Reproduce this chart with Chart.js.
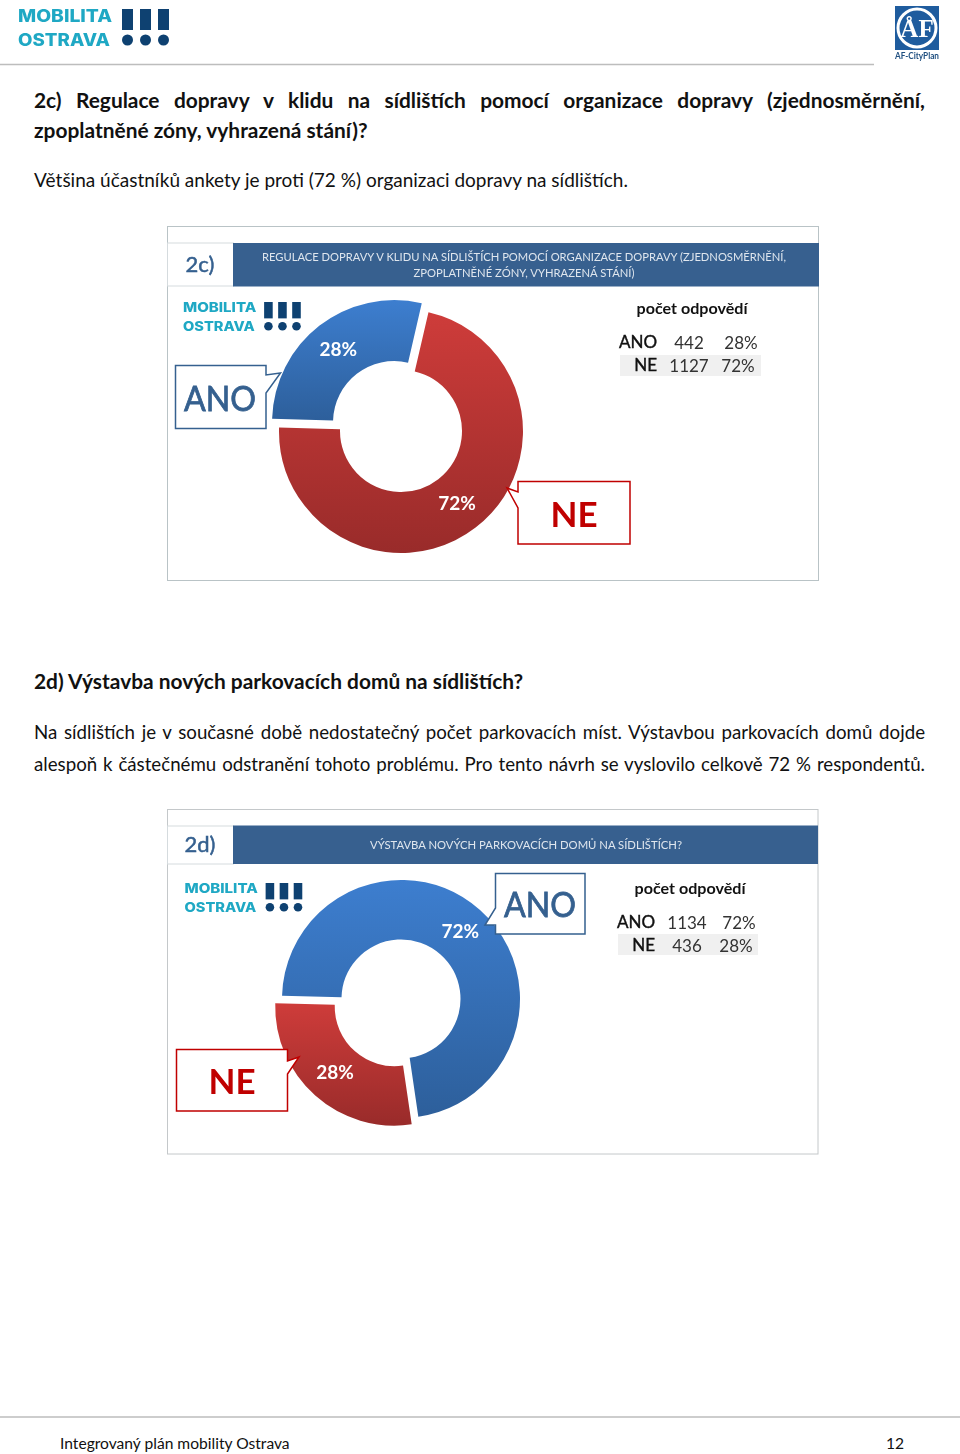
<!DOCTYPE html>
<html lang="cs">
<head>
<meta charset="utf-8">
<title>Integrovaný plán mobility Ostrava</title>
<script src="https://cdn.jsdelivr.net/npm/chart.js@4/dist/chart.umd.min.js"></script>
<style>
  html, body { margin: 0; padding: 0; background: #fff; }
  #page { position: relative; width: 960px; height: 1454px; overflow: hidden; font-family: Lato, sans-serif; color: #111; }
  #page canvas { position: absolute; }
  #art { position: absolute; left: 0; top: 0; }
  .line { position: absolute; left: 34px; white-space: nowrap; font-size: 19px; line-height: 24px; }
  .line.b { font-weight: 700; font-size: 20.900px; }
  .just { width: 891px; white-space: normal; text-align: justify; text-align-last: justify; }
  .tight { font-size: 18.7px; }
  .foot { font-size: 15.6px; }
</style>
</head>
<body>
<div id="page">
  <div class="line b just" style="top:88px">2c) Regulace dopravy v klidu na sídlištích pomocí organizace dopravy (zjednosměrnění,</div>
  <div class="line b" style="top:118px">zpoplatněné zóny, vyhrazená stání)?</div>
  <div class="line" style="top:168px">Většina účastníků ankety je proti (72 %) organizaci dopravy na sídlištích.</div>
  <div class="line b" style="top:669px">2d) Výstavba nových parkovacích domů na sídlištích?</div>
  <div class="line just tight" style="top:720px">Na sídlištích je v současné době nedostatečný počet parkovacích míst. Výstavbou parkovacích domů dojde</div>
  <div class="line just tight" style="top:752px">alespoň k částečnému odstranění tohoto problému. Pro tento návrh se vyslovilo celkově 72 % respondentů.</div>
  <div class="line foot" style="left:60px;top:1431px">Integrovaný plán mobility Ostrava</div>
  <div class="line foot" style="left:886px;top:1431px">12</div>

  <canvas id="chart2c" width="300" height="300" style="left:251px;top:281px"></canvas>
  <canvas id="chart2d" width="300" height="300" style="left:251px;top:849px"></canvas>

  <svg id="art" width="960" height="1454" xmlns="http://www.w3.org/2000/svg">
    <defs>
      <g id="logo">
        <text x="0" y="13" font-family="Inter" font-weight="800" font-size="17" fill="#1fa8c4" textLength="94" lengthAdjust="spacingAndGlyphs">MOBILITA</text>
        <text x="0" y="37" font-family="Inter" font-weight="800" font-size="17" fill="#1fa8c4" textLength="92" lengthAdjust="spacingAndGlyphs">OSTRAVA</text>
        <rect x="104" y="0" width="11" height="21" fill="#0e4171"/>
        <rect x="122" y="0" width="11" height="21" fill="#0e4171"/>
        <rect x="140" y="0" width="11" height="21" fill="#0e4171"/>
        <circle cx="109.500" cy="31" r="5.500" fill="#0e4171"/>
        <circle cx="127.500" cy="31" r="5.500" fill="#0e4171"/>
        <circle cx="145.500" cy="31" r="5.500" fill="#0e4171"/>
      </g>
    </defs>

    <!-- page header -->
    <use href="#logo" transform="translate(18,9)"/>
    <line x1="0" y1="64.500" x2="874" y2="64.500" stroke="#bdbdbd" stroke-width="1.500"/>
    <rect x="895" y="6" width="44" height="44" fill="#1f5c9e"/>
    <circle cx="917" cy="28" r="19" fill="none" stroke="#fff" stroke-width="3"/>
    <text x="917" y="37" text-anchor="middle" font-family="Liberation Serif" font-weight="700" font-size="25" fill="#fff">ÅF</text>
    <text x="917" y="59" text-anchor="middle" font-family="Lato" font-weight="700" font-size="9" fill="#1f4f80" textLength="44" lengthAdjust="spacingAndGlyphs">AF-CityPlan</text>
    <line x1="0" y1="1417" x2="960" y2="1417" stroke="#bdbdbd" stroke-width="1.500"/>

    <!-- panel 2c -->
    <rect x="167.500" y="226.500" width="651" height="354" fill="none" stroke="#b9c3c6"/>
    <rect x="167.500" y="243" width="66" height="43" fill="#fff" stroke="#d5dbde"/>
    <rect x="233" y="243" width="586" height="43.500" fill="#37608f"/>
    <use href="#logo" transform="translate(183,302) scale(0.78)"/>
    <path d="M175.500 365.500H266V375L280.500 373L266 393V428.500H175.500Z" fill="#fff" stroke="#35608f" stroke-width="1.500"/>
    <path d="M518 481.500H630V544H518V508L507 488L518 492Z" fill="#fff" stroke="#c00000" stroke-width="1.500"/>
    <rect x="620" y="355" width="141" height="21" fill="#f0f0f0"/>

    <!-- panel 2d -->
    <rect x="167.500" y="809.500" width="650.500" height="344.500" fill="none" stroke="#c4c8ca"/>
    <rect x="167.500" y="826" width="66" height="38" fill="#fff" stroke="#d5dbde"/>
    <rect x="233" y="825.500" width="585" height="38.500" fill="#37608f"/>
    <use href="#logo" transform="translate(184.500,883) scale(0.78)"/>
    <path d="M495.500 873.500H585V934H495.500V925L485 925L495.500 908Z" fill="#fff" stroke="#35608f" stroke-width="1.500"/>
    <path d="M176.500 1049.500H287.500V1061L299 1057L287.500 1074V1111H176.500Z" fill="#fff" stroke="#c00000" stroke-width="1.500"/>
    <rect x="618" y="934" width="140" height="21" fill="#f0f0f0"/>
  </svg>
</div>

<script>
const categories = ['ANO', 'NE'];
const counts2c = [442, 1127];
const shares2c = ['28%', '72%'];
const counts2d = [1134, 436];
const shares2d = ['72%', '28%'];
const sliceColors = [['#3d7ecf', '#2d5f9b'], ['#ce3c3a', '#992b2a']];

const centerLabels = {
  id: 'centerLabels',
  afterDatasetsDraw(chart, args, opts) {
    const ctx = chart.ctx;
    ctx.save();
    ctx.font = '700 19px Lato';
    ctx.fillStyle = '#fff';
    ctx.textAlign = 'center';
    ctx.textBaseline = 'middle';
    chart.getDatasetMeta(0).data.forEach((arc, i) => {
      // getCenterPoint counts offset / 2, but the arc is only drawn offset / 4 away
      const half = (arc.startAngle + arc.endAngle) / 2;
      const r = (arc.innerRadius + arc.outerRadius) / 2 + (arc.options.offset || 0) / 4;
      ctx.fillText(opts.labels[i], arc.x + Math.cos(half) * r, arc.y + Math.sin(half) * r);
    });
    ctx.restore();
  }
};

// vertical size of one slice, so the shading runs over the slice and not the whole ring
const sliceYRange = arc => {
  const angles = [arc.startAngle, arc.endAngle];
  for (let a = -Math.PI / 2; a < 4 * Math.PI; a += Math.PI) {
    if (a > arc.startAngle && a < arc.endAngle) angles.push(a);
  }
  const ys = angles.flatMap(a => [arc.outerRadius, arc.innerRadius].map(r => arc.y + Math.sin(a) * r));
  return [Math.min(...ys), Math.max(...ys)];
};

const drawDoughnut = (id, values, shares, offsets, radius) => {
  const chart = new Chart(document.getElementById(id), {
    type: 'doughnut',
    data: {
      labels: categories,
      datasets: [{
        data: values,
        backgroundColor: sliceColors.map(c => c[0]),
        borderWidth: 0,
        offset: offsets,
        radius: radius
      }]
    },
    options: {
      responsive: false,
      animation: false,
      rotation: 271.6,
      cutout: '50%',
      plugins: {
        legend: { display: false },
        tooltip: { enabled: false },
        centerLabels: { labels: shares }
      }
    },
    plugins: [centerLabels]
  });

  chart.data.datasets[0].backgroundColor = chart.getDatasetMeta(0).data.map((arc, i) => {
    const [top, bottom] = sliceYRange(arc);
    const gradient = chart.ctx.createLinearGradient(0, top, 0, bottom);
    gradient.addColorStop(0, sliceColors[i][0]);
    gradient.addColorStop(1, sliceColors[i][1]);
    return gradient;
  });
  chart.update();
};

drawDoughnut('chart2c', counts2c, shares2c, [44, 0], 122);
drawDoughnut('chart2d', counts2d, shares2d, [0, 40], 119);

// texts of the panels
const art = document.getElementById('art');
const put = (text, x, y, size, fill, weight, anchor, width, stroke) => {
  const t = document.createElementNS('http://www.w3.org/2000/svg', 'text');
  t.textContent = text;
  t.setAttribute('x', x);
  t.setAttribute('y', y);
  t.setAttribute('font-family', 'Lato');
  t.setAttribute('font-size', size);
  t.setAttribute('fill', fill);
  t.setAttribute('font-weight', weight);
  t.setAttribute('text-anchor', anchor);
  if (width) {
    t.setAttribute('textLength', width);
    t.setAttribute('lengthAdjust', 'spacingAndGlyphs');
  }
  if (stroke) {
    t.setAttribute('stroke', fill);
    t.setAttribute('stroke-width', stroke);
  }
  art.appendChild(t);
};

const panelText = (name, titleLines, counts, shares, dx, dy, nameY) => {
  put(name, 200, nameY, 22, '#35608f', 400, 'middle', 0, 0.5);
  titleLines.forEach(l => put(l.text, l.x, l.y, 11.5, '#dfe6ee', 400, 'middle', l.width));
  put('počet odpovědí', 692 + dx, 314 + dy, 15, '#111', 700, 'middle', 111);
  categories.forEach((c, i) => {
    const y = 348 + dy + i * 23;
    put(c, 657 + dx, y, 17, '#111', 400, 'end', 0, 0.4);
    put(String(counts[i]), 689 + dx, y + 1, 17, '#333', 400, 'middle');
    put(shares[i], (i ? 738 : 741) + dx, y + 1, 17, '#333', 400, 'middle');
  });
};

panelText('2c)', [
  { text: 'REGULACE  DOPRAVY  V KLIDU NA SÍDLIŠTÍCH POMOCÍ ORGANIZACE DOPRAVY (ZJEDNOSMĚRNĚNÍ,', x: 524, y: 261, width: 524 },
  { text: 'ZPOPLATNĚNÉ ZÓNY, VYHRAZENÁ STÁNÍ)', x: 524, y: 277, width: 221 }
], counts2c, shares2c, 0, 0, 272);

panelText('2d)', [
  { text: 'VÝSTAVBA NOVÝCH PARKOVACÍCH DOMŮ NA SÍDLIŠTÍCH?', x: 526, y: 849, width: 312 }
], counts2d, shares2d, -2, 580, 852);

put('ANO', 220, 411, 35, '#35608f', 400, 'middle', 72, 0.8);
put('NE', 574, 527, 35, '#c00000', 700, 'middle');
put('ANO', 540, 917, 35, '#35608f', 400, 'middle', 72, 0.8);
put('NE', 232, 1094, 35, '#c00000', 700, 'middle');
</script>
</body>
</html>
